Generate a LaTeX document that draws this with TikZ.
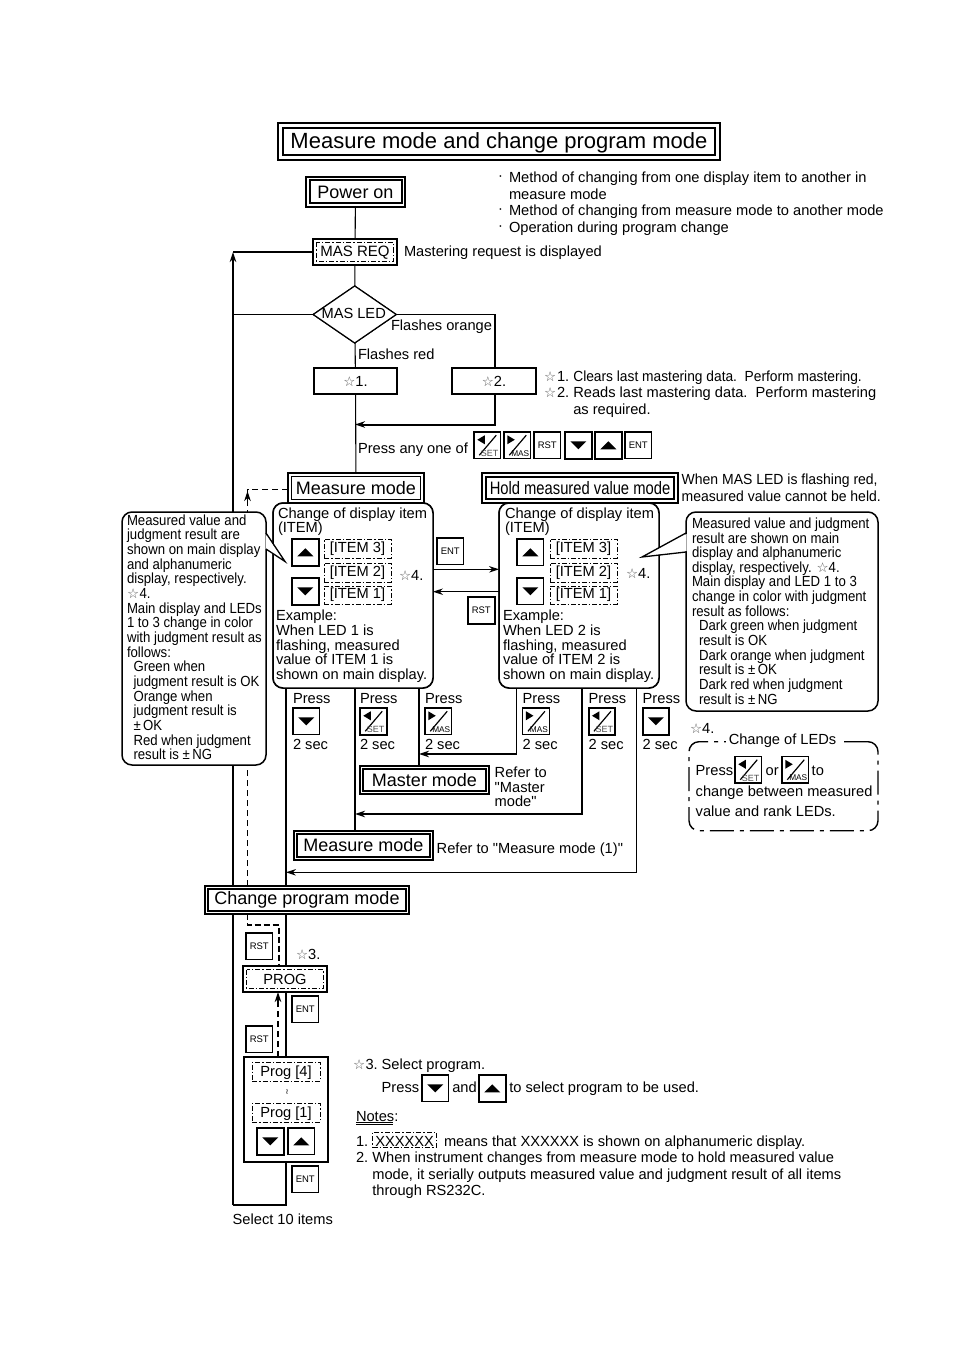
\documentclass[tikz,border=0pt]{standalone}
\usepackage{fontspec}
\usepackage{graphicx}
\setmainfont{Liberation Sans}
\newfontfamily\djv{DejaVu Sans}
\newfontfamily\qf{Liberation Sans}
\newfontfamily\narr[FakeStretch=0.90]{Liberation Sans}
\usetikzlibrary{arrows.meta,calc,shapes.geometric}
\newcommand\wst{{\djv\fontsize{13.5}{13.5}\selectfont\color{black!65}☆}}
\newcounter{lblc}
\newcommand\fs[1]{\fontsize{#1}{#1}\selectfont}
% text label: left x, visual middle y
\newcommand\lbl[4][]{\stepcounter{lblc}\node[txt,#1] (t\thelblc) at (#2,#3+5) {#4};}
% rectangle node from corners
\newcommand\bx[6][]{\node[boxn,minimum width={(#4-#2)*1pt},minimum height={(#5-#3)*1pt},#1] (#6) at ({(#2+#4)/2},{(#3+#5)/2}) {};}
% inner rectangle of a framed box
\newcommand\inr[3][thin2]{\draw[#1] ([shift={(#3,#3)}]#2.north west) rectangle ([shift={(-#3,-#3)}]#2.south east);}
% keys: style, name, left, top, kind
\newcommand\key[5][]{\node[keybox,#1] (#2) at (#3+13.25,#4+13.25) {};
 \begin{scope}[shift={(#2.center)}]\csname kk#5\endcsname\end{scope}}
\newcommand\kkup{\fill (-8,4) -- (8,4) -- (0,-4) -- cycle;}
\newcommand\kkdn{\fill (-8,-4) -- (8,-4) -- (0,4) -- cycle;}
\newcommand\kkRST{\node[keytxt] at (0,0) {RST};}
\newcommand\kkENT{\node[keytxt] at (0,0) {ENT};}
\newcommand\kkSET{\fill (-10,-5.5) -- (-2.5,-10) -- (-2.5,-1) -- cycle;
 \draw[line width=1.2pt] (9,-10) -- (-8,10);
 \node[keytxt,text=black!70] at (2.4,8.3) {\fs{9}SET};}
\newcommand\kkMAS{\fill (-10,-10) -- (-2.5,-5.5) -- (-10,-1) -- cycle;
 \draw[line width=1.2pt] (9,-10) -- (-8,10);
 \node[keytxt] at (3,8.3) {\fs{8.3}MAS};}
\tikzset{
 txt/.style={anchor=base west,inner sep=0pt,outer sep=0pt,font=\fs{14.65}},
 nar/.style={font=\narr\fs{14.65}},
 boxn/.style={draw,rectangle,inner sep=0pt,outer sep=0pt,line width=1.2pt,fill=white},
 heavy/.style={line width=2.2pt},
 thin2/.style={draw,line width=2pt},
 dd/.style={draw,line width=1pt,dash pattern=on 5pt off 2pt on 1.5pt off 2pt},
 keybox/.style={draw,rectangle,fill=white,minimum size=26.5pt,inner sep=0pt,outer sep=0pt,line width=1.1pt},
 hk/.style={line width=2pt},
 mk/.style={line width=1.6pt},
 keytxt/.style={inner sep=0pt,font=\fs{9.5}},
 lin/.style={line width=1.1pt},
 hln/.style={line width=2pt},
 tip/.style={-{Stealth[length=10pt,width=6.5pt]}},
 cen/.style={anchor=center,inner sep=0pt},
}
\begin{document}
\begin{tikzpicture}[x=1pt,y=-1pt]
\useasboundingbox (0,0) rectangle (954,1348);
\fill[white] (0,0) rectangle (954,1348);
% rails
\coordinate (xL) at (233,0);\coordinate (xD) at (247.5,0);\coordinate (xM) at (286,0);
\coordinate (xP) at (279,0);\coordinate (xC) at (355,0);\coordinate (xS) at (419,0);
\coordinate (xA) at (516.7,0);\coordinate (xB) at (582,0);\coordinate (xR) at (636.7,0);
\coordinate (xO) at (495,0);
% nodes (frames are defined first so that the lines can use them)
\bx[line width=1.3pt]{278}{123}{720}{160}{title}
\bx{306}{177}{405}{207}{pon}
\bx[heavy]{313}{239}{397}{265}{mreq}
\node[diamond,draw,line width=1.2pt,fill=white,inner sep=0pt,outer sep=0pt,aspect=1.46,minimum width=83pt,minimum height=57pt] (led) at (354.7,314.5) {};
\bx[heavy]{314}{368}{397}{394}{s1}
\bx[heavy]{452}{368}{536}{394}{s2}
\bx[heavy]{288}{473}{424}{503}{mm}
\bx{482}{473}{678}{503}{hold}
\bx[boxn,rounded corners=10pt,line width=1.5pt]{273}{503}{433}{688}{itemL}
\bx[boxn,rounded corners=10pt,line width=1.5pt]{499}{503}{659}{688}{itemR}
\bx[line width=1.3pt]{360}{766}{489}{794}{master}
\bx[line width=1.3pt]{294}{831}{433}{860}{mm2}
\bx[heavy]{205}{886}{409}{914}{cpm}
\bx[heavy]{243}{966}{327}{992}{prog}
\bx[heavy]{244}{1057}{328}{1162}{pbox}
\coordinate (loopB) at (286,1205);
\coordinate (lateB) at (233,1205);
% connectors
\draw[lin] (pon) -- (mreq);
\draw[lin] (mreq) -- (led);
\draw[lin] (led) -- (s1);
\draw[lin] (s1) -- (mm);
\draw[lin] (led.east) -- (led.east -| xO) -- (s2.north -| xO);
\coordinate (j1) at (355,424.5);
\draw[hln,tip] (s2.south -| xO) |- (j1);
\draw[hln,tip] (lateB) -- (233,252);
\draw[lin] (xL |- mreq.west) -- (mreq.west);
\draw[lin] (xL |- led.west) -- (led.west);
\draw[hln] (itemL.south -| xM) -- (cpm.north -| xM);
\draw[hln] (cpm.south -| xM) -- (prog.north -| xM);
\draw[hln] (prog.south -| xM) -- (pbox.north -| xM);
\draw[hln] (pbox.south -| xM) -- (loopB) -- (lateB);
\draw[lin] (itemL.south -| xC) -- (mm2.north -| xC);
\draw[line width=1.6pt] (itemL.south -| xS) -- (master.north -| xS);
\coordinate (j2) at (419,754);\coordinate (j3) at (355,814);\coordinate (j4) at (286,872.3);
\draw[lin,tip] (itemR.south -| xA) |- (j2);
\draw[hln,tip] (itemR.south -| xB) |- (j3);
\draw[lin,tip] (itemR.south -| xR) |- (j4);
\coordinate (e1) at (itemR.west |- 0,569.3);\coordinate (e2) at (itemL.east |- 0,591.7);
\draw[lin,tip] (itemL.east |- e1) -- (itemR.west |- e1);
\draw[lin,tip] (itemR.west |- e2) -- (itemL.east |- e2);
\coordinate (d1) at (247.5,491);
\draw[lin,dashed,dash pattern=on 6pt off 4pt] (cpm.north -| xD) -- (247.5,495);
\draw[lin,dash pattern=on 6pt off 4pt] (mm.west |- 0,489.5) -- (247.5,489.5) -- (247.5,495);
\draw[-{Stealth[length=10pt,width=6.5pt]},lin] (247.5,500) -- (d1);
\draw[line width=1.5pt,dash pattern=on 6pt off 3pt] (cpm.south -| xD) -- (247.5,925) -- (279,925) -- (prog.north -| xP);
\coordinate (d2) at (278,993);
\draw[lin,dash pattern=on 6pt off 4pt] (pbox.north -| d2) -- (278,1003);
\draw[-{Stealth[length=10pt,width=6.5pt]},lin] (278,1006) -- (prog.south -| d2);
% redraw frames on top of the lines
\bx[line width=1.3pt]{278}{123}{720}{160}{title}
\inr[line width=2pt]{title}{5}
\node[cen,font=\fs{22}] (titleT) at ([yshift=-1pt]title.center) {Measure mode and change program mode};
\bx{306}{177}{405}{207}{pon}
\inr[line width=2pt]{pon}{3.5}
\node[cen,font=\fs{18}] (ponT) at (pon.center) {Power on};
\bx[heavy]{313}{239}{397}{265}{mreq}
\inr[dd]{mreq}{3.5}
\node[cen,font=\fs{15}] (mreqT) at ([yshift=-1pt]mreq.center) {MAS REQ};
\node[diamond,draw,line width=1.2pt,fill=white,inner sep=0pt,outer sep=0pt,aspect=1.46,minimum width=83pt,minimum height=57pt] (led) at (354.7,314.5) {};
\node[cen,font=\fs{14.65}] (ledT) at (353.7,313.7) {MAS LED};
\bx[heavy]{314}{368}{397}{394}{s1}
\node[cen] (s1T) at (s1.center) {\wst\fs{14.65}1.};
\bx[heavy]{452}{368}{536}{394}{s2}
\node[cen] (s2T) at (s2.center) {\wst\fs{14.65}2.};
\bx[heavy]{288}{473}{424}{503}{mm}
\inr[line width=1.6pt]{mm}{3.6}
\node[cen,font=\fs{18}] (mmT) at (mm.center) {Measure mode};
\bx{482}{473}{678}{503}{hold}
\inr[line width=2pt]{hold}{3.6}
\node[cen,font=\fs{18}] (holdT) at (hold.center) {\scalebox{0.82}[1]{Hold measured value mode}};
\bx[boxn,rounded corners=10pt,line width=1.5pt]{273}{503}{433}{688}{itemL}
\bx[boxn,rounded corners=10pt,line width=1.5pt]{499}{503}{659}{688}{itemR}
\bx[line width=1.3pt]{360}{766}{489}{794}{master}
\inr[line width=2pt]{master}{3}
\node[cen,font=\fs{18}] (masterT) at (master.center) {Master mode};
\bx[line width=1.3pt]{294}{831}{433}{860}{mm2}
\inr[line width=2pt]{mm2}{3}
\node[cen,font=\fs{18}] (mm2T) at (mm2.center) {Measure mode};
\bx[heavy]{205}{886}{409}{914}{cpm}
\inr[line width=1.6pt]{cpm}{3}
\node[cen,font=\fs{18}] (cpmT) at (cpm.center) {Change program mode};
\bx[heavy]{243}{966}{327}{992}{prog}
\inr[dd]{prog}{3.5}
\node[cen,font=\fs{14.65}] (progT) at (prog.center) {PROG};
\bx[heavy]{244}{1057}{328}{1162}{pbox}
% callouts
\bx[boxn,rounded corners=10pt,line width=1.5pt]{122}{512}{266}{765}{callL}
\fill[white] (265.5,534) -- (285,561.5) -- (265.5,549) -- cycle;
\draw[line width=1.3pt,line join=miter] (266,533) -- (285,561.5) -- (266,549);
\bx[boxn,rounded corners=10pt,line width=1.5pt]{686}{512}{878}{711}{callR}
\fill[white] (686.5,534) -- (642,557) -- (686.5,551) -- cycle;
\draw[line width=1.3pt] (686,533) -- (642,557) -- (686,552);
% top notes
\lbl{498}{176}{·}\lbl{509}{178}{Method of changing from one display item to another in}
\lbl{509}{194.5}{measure mode}
\lbl{498}{209}{·}\lbl{509}{211}{Method of changing from measure mode to another mode}
\lbl{498}{226}{·}\lbl{509}{228}{Operation during program change}
\lbl{404}{251}{Mastering request is displayed}
\lbl{391}{325.7}{Flashes orange}
\lbl{358}{354.3}{Flashes red}
\lbl{544}{376.7}{\wst}\lbl{557}{376.7}{1.}\lbl{573.3}{376.7}{\scalebox{0.94}[1]{Clears last mastering data.\ \ Perform mastering.}}
\lbl{544}{392.3}{\wst}\lbl{557}{392.3}{2.}\lbl{573.3}{392.3}{Reads last mastering data.\ \ Perform mastering}
\lbl{573.3}{409}{as required.}
\lbl{358}{448}{Press any one of}
\key{k1}{474}{432}{SET}\key{k2}{504}{432}{MAS}\key{k3}{534}{432}{RST}
\key[hk]{k4}{565}{432}{dn}\key[hk]{k5}{595}{432}{up}\key{k6}{625}{432}{ENT}
\lbl{681.7}{479.3}{\scalebox{0.955}[1]{When MAS LED is flashing red,}}
\lbl{681.7}{496}{\scalebox{0.955}[1]{measured value cannot be held.}}
% left item box
\lbl{278}{513}{Change of display item}
\lbl{278}{527}{(ITEM)}
\key[hk]{lu}{292}{539}{up}\key[hk]{ld}{292}{578}{dn}
\bx[dd,fill=none]{324}{539}{391}{558}{li3}\node[cen] (li3T) at (li3.center) {\fs{14.65}[ITEM 3]};
\bx[dd,fill=none]{324}{563}{391}{582}{li2}\node[cen] (li2T) at (li2.center) {\fs{14.65}[ITEM 2]};
\bx[dd,fill=none]{324}{586}{391}{604}{li1}\node[cen] (li1T) at (li1.center) {\fs{14.65}[ITEM 1]};
\lbl{399}{575}{\wst\fs{14.65}4.}
\lbl{276}{615}{Example:}\lbl{276}{630}{When LED 1 is}\lbl{276}{645}{flashing, measured}
\lbl{276}{659}{value of ITEM 1 is}\lbl{276}{674}{shown on main display.}
\key{kent}{437}{538}{ENT}\key[hk]{krst}{468}{597}{RST}
% right item box
\lbl{505}{513}{Change of display item}
\lbl{505}{527}{(ITEM)}
\key{ru}{517}{539}{up}\key{rd}{517}{578}{dn}
\bx[dd,fill=none]{550}{539}{617}{558}{ri3}\node[cen] (ri3T) at (ri3.center) {\fs{14.65}[ITEM 3]};
\bx[dd,fill=none]{550}{563}{617}{582}{ri2}\node[cen] (ri2T) at (ri2.center) {\fs{14.65}[ITEM 2]};
\bx[dd,fill=none]{550}{586}{617}{604}{ri1}\node[cen] (ri1T) at (ri1.center) {\fs{14.65}[ITEM 1]};
\lbl{626}{573}{\wst\fs{14.65}4.}
\lbl{503}{615}{Example:}\lbl{503}{630}{When LED 2 is}\lbl{503}{645}{flashing, measured}
\lbl{503}{659}{value of ITEM 2 is}\lbl{503}{674}{shown on main display.}
% left callout text
\lbl[nar]{127}{520}{Measured value and}\lbl[nar]{127}{534.7}{judgment result are}
\lbl[nar]{127}{549.3}{shown on main display}\lbl[nar]{127}{564}{and alphanumeric}
\lbl[nar]{127}{578.7}{display, respectively.}\lbl[nar]{127}{593.3}{\wst}
\node[txt,nar] (cl4) at (139.5,598.3) {4.};
\lbl[nar]{127}{608}{Main display and LEDs}\lbl[nar]{127}{622.7}{1 to 3 change in color}
\lbl[nar]{127}{637.3}{with judgment result as}\lbl[nar]{127}{652}{follows:}
\lbl[nar]{133.5}{666.7}{Green when}\lbl[nar]{133.5}{681.3}{judgment result is OK}
\lbl[nar]{133.5}{696}{Orange when}\lbl[nar]{133.5}{710.7}{judgment result is}
\lbl[nar]{133.5}{725.3}{±\,OK}\lbl[nar]{133.5}{740}{Red when judgment}
\lbl[nar]{133.5}{754.7}{result is ±\,NG}
% right callout text
\lbl[nar]{692}{523}{Measured value and judgment}\lbl[nar]{692}{538}{result are shown on main}
\lbl[nar]{692}{552.7}{display and alphanumeric}\lbl[nar]{692}{567}{display, respectively. \wst\narr\fs{14.65}4.}
\lbl[nar]{692}{581.7}{Main display and LED 1 to 3}\lbl[nar]{692}{596.3}{change in color with judgment}
\lbl[nar]{692}{611}{result as follows:}
\lbl[nar]{699}{625.7}{Dark green when judgment}\lbl[nar]{699}{640}{result is OK}
\lbl[nar]{699}{655}{Dark orange when judgment}\lbl[nar]{699}{669.7}{result is ±\,OK}
\lbl[nar]{699}{684.3}{Dark red when judgment}\lbl[nar]{699}{699}{result is ±\,NG}
% press columns
\lbl{293}{698}{Press}\key{c1}{293}{708}{dn}\lbl{293}{744}{2 sec}
\lbl{360}{698}{Press}\key[hk]{c2}{360}{708}{SET}\lbl{360}{744}{2 sec}
\lbl{425}{698}{Press}\key{c3}{425}{708}{MAS}\lbl{425}{744}{2 sec}
\lbl{522.7}{698}{Press}\key{c4}{522.7}{708}{MAS}\lbl{522.7}{744}{2 sec}
\lbl{588.7}{698}{Press}\key[hk]{c5}{588.7}{708}{SET}\lbl{588.7}{744}{2 sec}
\lbl{642.7}{698}{Press}\key[hk]{c6}{642.7}{708}{dn}\lbl{642.7}{744}{2 sec}
\lbl{494.7}{772.7}{Refer to}\lbl{494.7}{787}{{\qf "}Master}\lbl{494.7}{801.7}{mode{\qf "}}
\lbl{436.7}{848.7}{{\qf Refer to "Measure mode (1)"}}
% change of LEDs
\lbl{690}{728}{\wst\fs{14.65}4.}
\bx[boxn,rounded corners=10pt,line width=1.4pt,fill=none,dash pattern=on 24pt off 6pt on 4pt off 6pt]{689}{741.7}{878}{830.7}{leds}
\node[cen,fill=white,inner xsep=3pt,inner ysep=1pt,font=\fs{14.65}] (ledsT) at (782.5,741) {Change of LEDs};
\lbl{695.7}{770.7}{Press}\key[mk]{ls}{735}{756.5}{SET}\lbl{765.7}{770.7}{or}\key[mk]{lm}{782}{756.5}{MAS}\lbl{811.7}{770.7}{to}
\lbl{695.7}{791}{change between measured}\lbl{695.7}{811}{value and rank LEDs.}
% program part
\key{r1}{246}{933}{RST}\lbl{296}{954}{\wst\fs{14.65}3.}
\key{e1k}{292}{996}{ENT}\key{r2}{246}{1026}{RST}
\bx[heavy]{244}{1057}{328}{1162}{pbox}
\bx[dd,fill=none]{252}{1062}{320}{1081}{p4}\node[cen] (p4T) at ([yshift=-1.5pt]p4.center) {\fs{14.65}Prog [4]};
\node[cen] (pw) at (287,1092) {\djv\fs{8}≀};
\bx[dd,fill=none]{252}{1103}{320}{1122}{p1}\node[cen] (p1T) at ([yshift=-1.5pt]p1.center) {\fs{14.65}Prog [1]};
\key[hk]{pd}{257}{1128}{dn}\key{pu}{288}{1128}{up}
\key{e2k}{292}{1166}{ENT}
\lbl{232.7}{1219}{Select 10 items}
% bottom notes
\lbl{353}{1064}{\wst}\lbl{365.5}{1064}{3.}\lbl{381.7}{1064}{Select program.}
\lbl{381.7}{1087}{Press}\key{bd}{422}{1075}{dn}\lbl{452.3}{1087}{and}\key[hk]{bu}{479}{1075}{up}
\lbl{509.3}{1087}{to select program to be used.}
\lbl{356}{1116}{Notes:}
\draw[line width=.8pt] (356,1122.5) -- (393,1122.5) (356,1124.5) -- (393,1124.5);
\lbl{356}{1141}{1.}
\bx[dd,fill=none]{372.7}{1132}{436.7}{1147}{xb}\node[cen] (xbT) at ([yshift=-1.5pt]xb.center) {\fs{14.65}XXXXXX};
\lbl{444}{1141}{means that XXXXXX is shown on alphanumeric display.}
\lbl{356}{1157}{2.}\lbl{372.3}{1157}{When instrument changes from measure mode to hold measured value}
\lbl{372.3}{1174}{mode, it serially outputs measured value and judgment result of all items}
\lbl{372.3}{1190.7}{through RS232C.}
\end{tikzpicture}
\end{document}
